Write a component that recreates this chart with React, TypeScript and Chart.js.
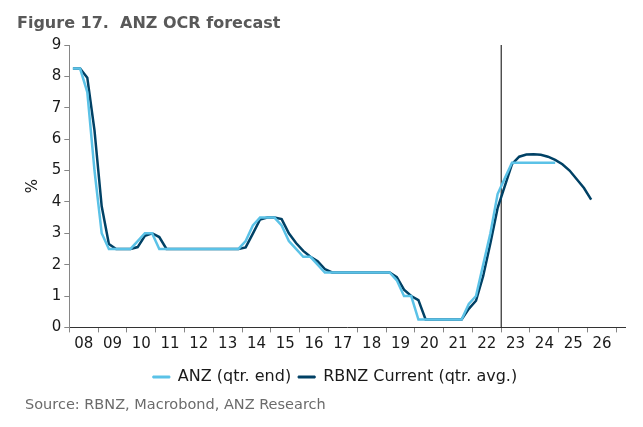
import React, { useEffect, useRef } from 'react';
import { Chart, registerables } from 'chart.js';

Chart.register(...registerables);

const FONT = "'DejaVu Sans', Verdana, sans-serif";

const titleText = 'Figure 17.  ANZ OCR forecast';
const sourceText = 'Source: RBNZ, Macrobond, ANZ Research';
const anzLabel = 'ANZ (qtr. end)';
const rbnzLabel = 'RBNZ Current (qtr. avg.)';

const startYear = 2008;
const yearTicks = [2008, 2009, 2010, 2011, 2012, 2013, 2014, 2015, 2016, 2017, 2018, 2019, 2020, 2021, 2022, 2023, 2024, 2025, 2026, 2027];
const yearLabels = ['08', '09', '10', '11', '12', '13', '14', '15', '16', '17', '18', '19', '20', '21', '22', '23', '24', '25', '26'];
const yMin = 0;
const yMax = 9;
const forecastStart = 2023;

// ANZ forecast, quarter-end OCR, 2008Q1 .. 2024Q4
const anzQtrEnd = [
  8.25, 8.25, 7.5, 5.0,
  3.0, 2.5, 2.5, 2.5,
  2.5, 2.75, 3.0, 3.0,
  2.5, 2.5, 2.5, 2.5,
  2.5, 2.5, 2.5, 2.5,
  2.5, 2.5, 2.5, 2.5,
  2.75, 3.25, 3.5, 3.5,
  3.5, 3.25, 2.75, 2.5,
  2.25, 2.25, 2.0, 1.75,
  1.75, 1.75, 1.75, 1.75,
  1.75, 1.75, 1.75, 1.75,
  1.75, 1.5, 1.0, 1.0,
  0.25, 0.25, 0.25, 0.25,
  0.25, 0.25, 0.25, 0.75,
  1.0, 2.0, 3.0, 4.25,
  4.75, 5.25, 5.25, 5.25,
  5.25, 5.25, 5.25, 5.25,
];

// RBNZ current track, quarterly average OCR, 2008Q1 .. 2026Q1
const rbnzQtrAvg = [
  8.25, 8.25, 7.96, 6.28,
  3.86, 2.66, 2.5, 2.5,
  2.5, 2.56, 2.92, 3.0,
  2.88, 2.5, 2.5, 2.5,
  2.5, 2.5, 2.5, 2.5,
  2.5, 2.5, 2.5, 2.5,
  2.55, 2.99, 3.44, 3.5,
  3.5, 3.45, 3.0, 2.69,
  2.44, 2.25, 2.11, 1.86,
  1.75, 1.75, 1.75, 1.75,
  1.75, 1.75, 1.75, 1.75,
  1.75, 1.6, 1.2, 1.0,
  0.87, 0.25, 0.25, 0.25,
  0.25, 0.25, 0.25, 0.59,
  0.85, 1.64, 2.68, 3.8,
  4.5, 5.2, 5.44, 5.51,
  5.52, 5.5, 5.44, 5.34,
  5.2, 5.0, 4.72, 4.44,
  4.07,
];

const LIGHT = '#5bc2e7';
const DARK = '#004165';
const AXIS_GREY = '#868686';
const TEXT = '#1a1a1a';

export default function App() {
  const ref = useRef<HTMLCanvasElement>(null);

  useEffect(() => {
    const toPoints = (vals: number[]) => vals.map((v, i) => ({ x: startYear + (i + 0.5) / 4, y: v }));
    const chart = new Chart(ref.current!, {
      type: 'line',
      data: {
        datasets: [
          {
            label: anzLabel,
            data: toPoints(anzQtrEnd),
            borderColor: LIGHT,
            backgroundColor: LIGHT,
            borderWidth: 2.5,
            pointRadius: 0,
            tension: 0,
          },
          {
            label: rbnzLabel,
            data: toPoints(rbnzQtrAvg),
            borderColor: DARK,
            backgroundColor: DARK,
            borderWidth: 2.5,
            pointRadius: 0,
            tension: 0,
          },
          {
            label: 'forecast',
            data: [{ x: forecastStart, y: yMin }, { x: forecastStart, y: yMax }],
            borderColor: '#000',
            backgroundColor: '#000',
            borderWidth: 1,
            pointRadius: 0,
          },
        ],
      },
      options: {
        responsive: false,
        animation: false,
        events: [],
        layout: { padding: { top: 45, left: 45, right: 18, bottom: 32 } },
        plugins: {
          tooltip: { enabled: false },
          title: { display: false },
          legend: {
            position: 'bottom',
            labels: {
              boxWidth: 17,
              boxHeight: 2,
              padding: 7,
              color: TEXT,
              font: { family: FONT, size: 16 },
              filter: (item: any) => item.datasetIndex < 2,
              generateLabels: (c: any) =>
                (Chart.defaults.plugins.legend.labels.generateLabels as any)(c).map((l: any) => ({
                  ...l,
                  lineWidth: 1,
                  strokeStyle: l.fillStyle,
                })),
            },
          },
        },
        scales: {
          x: {
            type: 'linear',
            min: startYear,
            max: 2027.3,
            afterBuildTicks: (axis: any) => {
              axis.ticks = yearTicks.map((v) => ({ value: v }));
            },
            afterFit: (axis: any) => {
              axis.height += 5.6;
            },
            ticks: {
              autoSkip: false,
              maxRotation: 0,
              labelOffset: 14.4,
              padding: 3,
              color: TEXT,
              font: { family: FONT, size: 15 },
              callback: (v: any) => yearLabels[Math.round(Number(v)) - startYear] ?? '',
            },
            grid: { drawOnChartArea: false, drawTicks: true, tickLength: 5, color: AXIS_GREY },
            border: { display: true, color: '#333' },
          },
          y: {
            min: yMin,
            max: yMax,
            afterFit: (axis: any) => {
              axis.width = 24.3;
            },
            ticks: {
              stepSize: 1,
              padding: 3,
              color: TEXT,
              font: { family: FONT, size: 15 },
            },
            grid: { drawOnChartArea: false, drawTicks: true, tickLength: 5, color: AXIS_GREY },
            border: { display: true, color: AXIS_GREY },
            title: {
              display: true,
              text: '%',
              color: TEXT,
              font: { family: FONT, size: 15 },
              padding: { top: -21, bottom: 0 },
            },
          },
        },
      },
    } as any);
    return () => chart.destroy();
  }, []);

  return (
    <div style={{ position: 'absolute', left: 0, top: 0, width: 643, height: 427, background: '#fff', overflow: 'hidden' }}>
      <canvas ref={ref} width={643} height={427} style={{ position: 'absolute', left: 0, top: 0, width: 643, height: 427 }} />
      <div
        style={{
          position: 'absolute',
          left: 17,
          top: 15,
          fontFamily: FONT,
          fontWeight: 'bold',
          fontSize: 16,
          lineHeight: '16px',
          color: '#595959',
          whiteSpace: 'pre',
        }}
      >
        {titleText}
      </div>
      <div
        style={{
          position: 'absolute',
          left: 25,
          top: 397,
          fontFamily: FONT,
          fontSize: 14.5,
          lineHeight: '14.5px',
          color: '#6b6b6b',
          whiteSpace: 'pre',
        }}
      >
        {sourceText}
      </div>
    </div>
  );
}
